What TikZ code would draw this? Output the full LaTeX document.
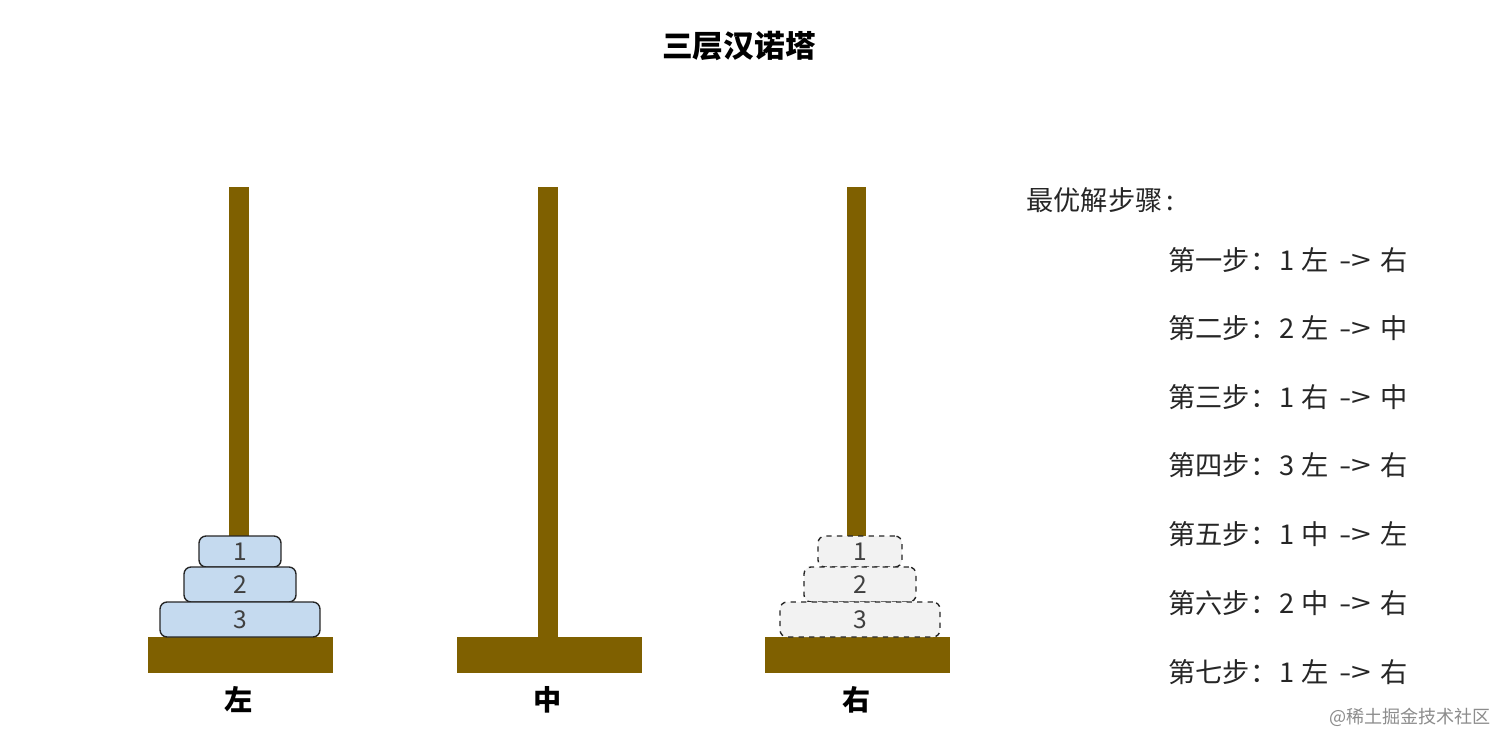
\documentclass[tikz,border=0pt]{standalone}
\usepackage{fontspec}
\setmainfont{Noto Sans CJK SC}
\usetikzlibrary{positioning}

\definecolor{polebrown}{HTML}{7F6000}
\definecolor{diskblue}{HTML}{C5DAEF}
\definecolor{diskghost}{HTML}{F2F2F2}

% one line of the move list
\newcommand{\movestep}[4]{#1：\makebox[11pt][c]{#2}\hspace{3pt}#3\hspace{6pt}\scalebox{1.3}[1]{->}\hspace{5pt}#4}

\tikzset{
  pole/.style={fill=polebrown, draw=none},
  disk/.style={draw=black!85, fill=diskblue, rounded corners=4pt, line width=0.8pt,
    inner sep=0pt, text=black!75, font=\fontsize{14}{16}\selectfont},
  ghostdisk/.style={disk, fill=diskghost, dashed},
  towerlabel/.style={font=\bfseries\fontsize{16}{18}\selectfont},
  steptext/.style={anchor=west, text=black!85, inner sep=0pt, font=\fontsize{15.5}{18}\selectfont},
}

\begin{document}
\begin{tikzpicture}[x=0.02cm, y=-0.02cm]
  \useasboundingbox (0,0) rectangle (1512,748);
  \node[font=\bfseries\fontsize{17.5}{20}\selectfont] (title) at (739,46) {三层汉诺塔};

  % left tower
  \fill[pole] (229,187) rectangle (249,637);
  \fill[pole] (148,637) rectangle (333,673);
  \node[disk, minimum width=1.64cm, minimum height=0.62cm] (l1) at (240,551.5) {1};
  \node[disk, minimum width=2.24cm, minimum height=0.70cm] (l2) at (240,584.5) {2};
  \node[disk, minimum width=3.2cm, minimum height=0.70cm] (l3) at (240,619.5) {3};
  \node[towerlabel] (left) at (239,700) {左};

  % middle tower
  \fill[pole] (538,187) rectangle (558,637);
  \fill[pole] (457,637) rectangle (642,673);
  \node[towerlabel] (mid) at (548,700) {中};

  % right tower
  \fill[pole] (847,187) rectangle (866,637);
  \fill[pole] (765,637) rectangle (950,673);
  \node[ghostdisk, minimum width=1.68cm, minimum height=0.62cm] (r1) at (860,551.5) {1};
  \node[ghostdisk, minimum width=2.24cm, minimum height=0.70cm] (r2) at (860,584.5) {2};
  \node[ghostdisk, minimum width=3.2cm, minimum height=0.70cm] (r3) at (860,619.5) {3};
  \node[towerlabel] (right) at (857,700) {右};

  % steps
  \node[steptext] (head) at (1026,200) {最优解步骤\hspace{2pt}:};
  \node[steptext] (s1) at (1168,260) {\movestep{第一步}{1}{左}{右}};
  \node[steptext] (s2) at (1168,328) {\movestep{第二步}{2}{左}{中}};
  \node[steptext] (s3) at (1168,397) {\movestep{第三步}{1}{右}{中}};
  \node[steptext] (s4) at (1168,465) {\movestep{第四步}{3}{左}{右}};
  \node[steptext] (s5) at (1168,534) {\movestep{第五步}{1}{中}{左}};
  \node[steptext] (s6) at (1168,603) {\movestep{第六步}{2}{中}{右}};
  \node[steptext] (s7) at (1168,672) {\movestep{第七步}{1}{左}{右}};

  \node[text=black!45, font=\fontsize{10.3}{12}\selectfont] (mark) at (1410,717) {@稀土掘金技术社区};
\end{tikzpicture}
\end{document}
